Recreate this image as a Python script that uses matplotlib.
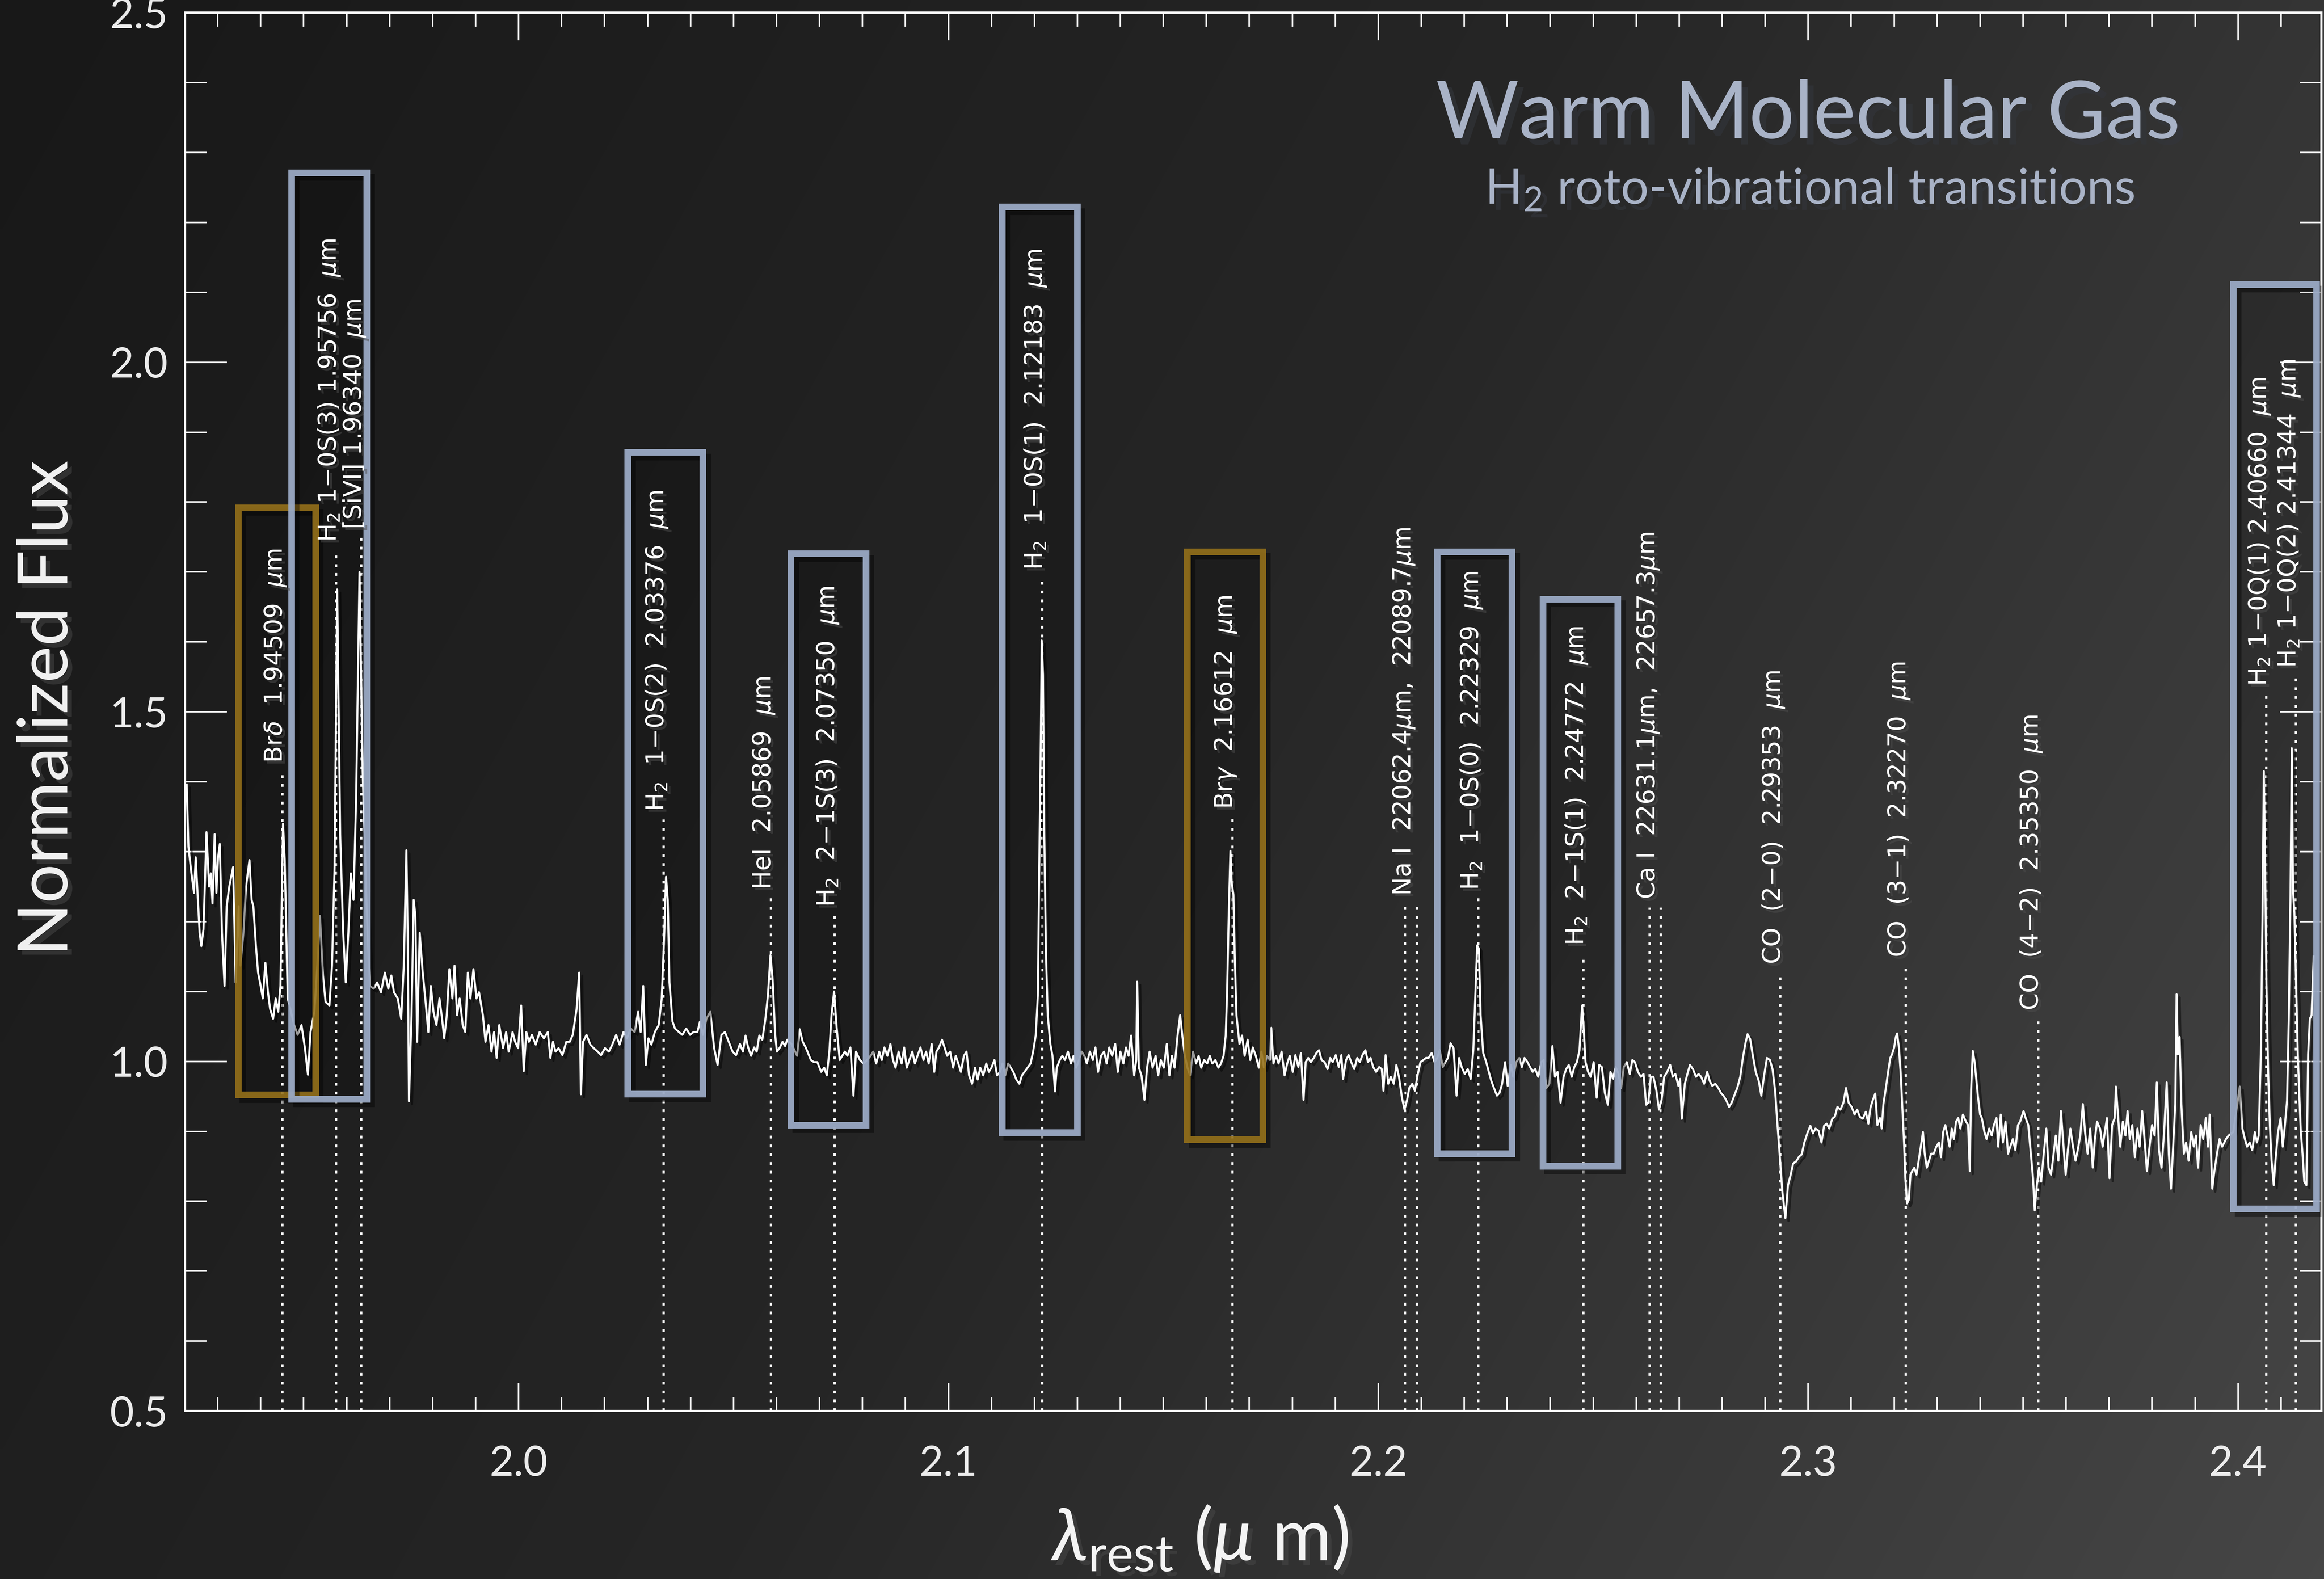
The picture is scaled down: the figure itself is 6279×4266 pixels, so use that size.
import numpy as np
import matplotlib
matplotlib.use("Agg")
import matplotlib.pyplot as plt
import matplotlib.patheffects as pe
from matplotlib.colors import LinearSegmentedColormap
from matplotlib.patches import Rectangle
from matplotlib.ticker import MultipleLocator, FormatStrFormatter
from matplotlib.transforms import offset_copy

plt.rcParams['mathtext.fontset'] = 'dejavusans'
plt.rcParams['mathtext.rm'] = 'Lato'
plt.rcParams['mathtext.it'] = 'Lato:italic'

# spectrum, (wavelength um, normalized flux), in four stretches
spec_a = [
    (1.9228, 1.396), (1.9232, 1.307), (1.9239, 1.269), (1.9245, 1.241), (1.9249, 1.292),
    (1.9254, 1.231), (1.9258, 1.184), (1.9262, 1.165), (1.9267, 1.189), (1.9274, 1.328),
    (1.9280, 1.250), (1.9284, 1.269), (1.9288, 1.226), (1.9293, 1.325), (1.9297, 1.241),
    (1.9301, 1.292), (1.9305, 1.311), (1.9310, 1.184), (1.9316, 1.108), (1.9321, 1.222),
    (1.9327, 1.250), (1.9336, 1.278), (1.9342, 1.113), (1.9349, 1.222), (1.9353, 1.137),
    (1.9360, 1.184), (1.9366, 1.250), (1.9374, 1.288), (1.9379, 1.231), (1.9383, 1.222),
    (1.9389, 1.165), (1.9394, 1.127), (1.9400, 1.108), (1.9405, 1.090), (1.9411, 1.141),
    (1.9417, 1.099), (1.9422, 1.075), (1.9429, 1.061), (1.9435, 1.090), (1.9441, 1.071),
    (1.9446, 1.108), (1.9452, 1.340), (1.9456, 1.288), (1.9463, 1.090), (1.9469, 1.075),
    (1.9478, 1.052), (1.9486, 1.038), (1.9495, 1.052), (1.9503, 1.019), (1.9510, 0.981),
    (1.9516, 1.042), (1.9525, 1.071), (1.9532, 1.137), (1.9538, 1.208), (1.9545, 1.123),
    (1.9551, 1.085), (1.9560, 1.080), (1.9566, 1.137), (1.9572, 1.278), (1.9578, 1.675),
    (1.9585, 1.325), (1.9592, 1.184), (1.9598, 1.113), (1.9604, 1.184), (1.9610, 1.269),
    (1.9616, 1.231), (1.9622, 1.373), (1.9630, 1.700), (1.9637, 1.420), (1.9646, 1.231),
    (1.9654, 1.108), (1.9663, 1.104), (1.9671, 1.113), (1.9680, 1.099), (1.9689, 1.127),
    (1.9697, 1.104), (1.9704, 1.123), (1.9710, 1.099), (1.9719, 1.090), (1.9727, 1.061),
    (1.9733, 1.137), (1.9739, 1.302), (1.9742, 1.184), (1.9745, 0.943), (1.9751, 1.066),
    (1.9756, 1.231), (1.9760, 1.208), (1.9764, 1.028), (1.9770, 1.184), (1.9777, 1.127),
    (1.9783, 1.090), (1.9790, 1.042), (1.9796, 1.108), (1.9802, 1.071), (1.9809, 1.052),
    (1.9816, 1.090), (1.9822, 1.061), (1.9827, 1.033), (1.9833, 1.066), (1.9839, 1.132),
    (1.9846, 1.090), (1.9851, 1.137), (1.9857, 1.066), (1.9863, 1.090), (1.9870, 1.052),
    (1.9876, 1.042), (1.9882, 1.127), (1.9888, 1.090), (1.9895, 1.132), (1.9902, 1.090),
    (1.9908, 1.099), (1.9917, 1.066), (1.9923, 1.028), (1.9930, 1.052), (1.9937, 1.014),
    (1.9943, 1.042), (1.9949, 1.005), (1.9955, 1.052), (1.9964, 1.019), (1.9971, 1.042),
    (1.9977, 1.014), (1.9986, 1.042), (1.9992, 1.028), (1.9999, 1.019), (2.0006, 1.080),
    (2.0012, 0.986), (2.0018, 1.042), (2.0024, 1.028), (2.0031, 1.038), (2.0040, 1.024),
    (2.0049, 1.042), (2.0059, 1.033), (2.0068, 1.042), (2.0074, 1.005), (2.0080, 1.028),
    (2.0086, 1.014), (2.0093, 1.019), (2.0102, 1.009), (2.0111, 1.028), (2.0119, 1.028),
    (2.0126, 1.038), (2.0135, 1.075), (2.0141, 1.127), (2.0145, 0.953), (2.0150, 1.028),
    (2.0158, 1.038), (2.0167, 1.024), (2.0175, 1.019), (2.0184, 1.014), (2.0192, 1.009),
    (2.0201, 1.019), (2.0210, 1.014), (2.0218, 1.024), (2.0227, 1.038), (2.0235, 1.024),
    (2.0244, 1.042), (2.0252, 1.033), (2.0261, 1.047), (2.0270, 1.042), (2.0278, 1.071),
    (2.0284, 1.042), (2.0290, 1.108), (2.0296, 0.995), (2.0302, 1.033), (2.0309, 1.024),
    (2.0317, 1.042), (2.0326, 1.052), (2.0333, 1.090), (2.0339, 1.184), (2.0343, 1.264),
    (2.0347, 1.231), (2.0351, 1.113), (2.0358, 1.057), (2.0364, 1.047), (2.0373, 1.042),
    (2.0381, 1.038), (2.0390, 1.047), (2.0399, 1.038), (2.0407, 1.042), (2.0416, 1.042),
    (2.0422, 1.057), (2.0429, 1.038), (2.0437, 1.061), (2.0446, 1.071), (2.0455, 1.019),
    (2.0463, 0.995), (2.0472, 1.038), (2.0480, 1.042), (2.0489, 1.028), (2.0498, 1.014),
    (2.0506, 1.009),
]
spec_b = [
    (2.0515, 1.025), (2.0522, 1.014), (2.0528, 1.037), (2.0534, 1.020), (2.0541, 1.008),
    (2.0548, 1.020), (2.0554, 1.014), (2.0560, 1.037), (2.0567, 1.031), (2.0574, 1.060),
    (2.0580, 1.094), (2.0586, 1.152), (2.0591, 1.117), (2.0597, 1.037), (2.0601, 1.014),
    (2.0608, 1.020), (2.0614, 1.028), (2.0620, 1.022), (2.0625, 1.031), (2.0635, 1.025),
    (2.0648, 1.008), (2.0654, 1.046), (2.0661, 1.028), (2.0668, 1.020), (2.0674, 1.011),
    (2.0680, 1.002), (2.0687, 0.999), (2.0695, 0.999), (2.0704, 0.985), (2.0711, 0.991),
    (2.0717, 0.980), (2.0723, 1.014), (2.0728, 1.066), (2.0734, 1.100), (2.0740, 1.048),
    (2.0747, 1.002), (2.0753, 1.008), (2.0759, 1.014), (2.0765, 1.008), (2.0772, 1.020),
    (2.0779, 0.951), (2.0785, 1.014), (2.0794, 1.002), (2.0802, 0.997), (2.0811, 1.002),
    (2.0819, 1.008), (2.0825, 1.014), (2.0832, 0.997), (2.0839, 1.014), (2.0845, 1.002),
    (2.0851, 1.020), (2.0858, 1.008), (2.0865, 1.025), (2.0871, 1.002), (2.0877, 0.991),
    (2.0884, 1.014), (2.0891, 0.997), (2.0897, 1.020), (2.0903, 0.991), (2.0909, 1.002),
    (2.0916, 1.014), (2.0922, 0.997), (2.0928, 1.008), (2.0935, 1.020), (2.0942, 1.002),
    (2.0948, 1.014), (2.0954, 0.997), (2.0961, 1.025), (2.0967, 0.985), (2.0972, 1.014),
    (2.0978, 1.020), (2.0985, 1.031), (2.0991, 1.020), (2.0997, 1.008), (2.1004, 1.014),
    (2.1011, 0.991), (2.1017, 1.008), (2.1023, 0.997), (2.1029, 0.985), (2.1036, 1.008),
    (2.1042, 1.014), (2.1048, 0.980), (2.1055, 0.968), (2.1062, 0.991), (2.1068, 0.974),
    (2.1074, 0.991), (2.1081, 0.980), (2.1088, 0.997), (2.1094, 0.985), (2.1100, 0.991),
    (2.1107, 1.002), (2.1113, 0.980), (2.1120, 0.985), (2.1126, 0.997), (2.1132, 0.980),
    (2.1139, 0.997), (2.1145, 0.991), (2.1151, 0.985), (2.1158, 0.974), (2.1165, 0.968),
    (2.1171, 0.980), (2.1177, 0.985), (2.1184, 0.991), (2.1191, 0.997), (2.1197, 1.014),
    (2.1203, 1.037), (2.1208, 1.094), (2.1211, 1.266), (2.1215, 1.467), (2.1217, 1.602),
    (2.1220, 1.553), (2.1223, 1.324), (2.1227, 1.152), (2.1231, 1.066), (2.1237, 1.025),
    (2.1242, 1.008), (2.1248, 0.957), (2.1252, 0.991), (2.1259, 1.002), (2.1265, 1.008),
    (2.1271, 1.002), (2.1278, 1.014), (2.1285, 0.997), (2.1291, 1.008), (2.1297, 0.991),
    (2.1304, 1.002), (2.1310, 1.014), (2.1316, 1.008), (2.1322, 0.997), (2.1329, 1.014),
    (2.1336, 1.002), (2.1342, 1.020), (2.1348, 0.985), (2.1355, 1.008), (2.1362, 1.014),
    (2.1368, 0.997), (2.1374, 1.020), (2.1381, 1.008), (2.1388, 1.025), (2.1394, 0.985),
    (2.1400, 1.014), (2.1407, 0.997), (2.1413, 1.020), (2.1419, 1.008), (2.1425, 1.037),
    (2.1432, 0.980), (2.1437, 1.002), (2.1439, 1.114), (2.1443, 0.991), (2.1449, 0.980),
    (2.1456, 0.945), (2.1462, 0.991), (2.1468, 1.014), (2.1475, 0.991), (2.1482, 1.008),
    (2.1488, 0.980), (2.1494, 1.002), (2.1501, 0.991), (2.1508, 1.025), (2.1514, 0.980),
    (2.1520, 1.008), (2.1526, 0.991), (2.1533, 1.037), (2.1539, 1.066), (2.1544, 1.037),
    (2.1550, 1.008), (2.1556, 0.991), (2.1562, 0.980), (2.1569, 1.014), (2.1576, 0.997),
    (2.1582, 1.008), (2.1588, 0.991), (2.1595, 1.002), (2.1602, 0.997), (2.1608, 1.008),
    (2.1614, 0.997), (2.1621, 1.002), (2.1628, 0.991), (2.1634, 0.997), (2.1640, 1.008),
    (2.1645, 1.037), (2.1648, 1.094), (2.1652, 1.209), (2.1656, 1.301), (2.1659, 1.255),
    (2.1663, 1.238), (2.1666, 1.152), (2.1670, 1.066), (2.1677, 1.025), (2.1683, 1.037),
    (2.1689, 1.008), (2.1696, 1.031), (2.1702, 1.002), (2.1708, 1.020), (2.1715, 1.008),
    (2.1722, 0.991), (2.1728, 1.014), (2.1734, 0.991), (2.1741, 1.008), (2.1748, 1.002),
    (2.1751, 1.048), (2.1756, 0.997), (2.1762, 1.008), (2.1768, 0.997), (2.1775, 1.014),
    (2.1782, 0.980), (2.1788, 0.997), (2.1794, 1.008), (2.1801, 0.985),
]
spec_c = [
    (2.1807, 1.009), (2.1814, 0.992), (2.1820, 1.012), (2.1826, 0.945), (2.1831, 0.999),
    (2.1837, 1.005), (2.1843, 0.999), (2.1850, 1.005), (2.1856, 1.012), (2.1862, 1.016),
    (2.1868, 1.002), (2.1875, 0.999), (2.1882, 0.989), (2.1888, 1.005), (2.1894, 0.999),
    (2.1901, 1.009), (2.1908, 0.992), (2.1914, 1.009), (2.1918, 0.975), (2.1925, 1.002),
    (2.1931, 1.009), (2.1937, 0.999), (2.1944, 0.989), (2.1951, 1.005), (2.1957, 0.999),
    (2.1963, 1.009), (2.1970, 1.016), (2.1976, 0.999), (2.1982, 1.005), (2.1988, 0.992),
    (2.1995, 0.985), (2.2002, 0.992), (2.2008, 0.989), (2.2012, 0.958), (2.2017, 1.009),
    (2.2023, 0.968), (2.2029, 0.978), (2.2036, 0.968), (2.2042, 0.995), (2.2048, 0.978),
    (2.2055, 0.948), (2.2061, 0.931), (2.2067, 0.945), (2.2072, 0.962), (2.2079, 0.968),
    (2.2085, 0.958), (2.2092, 0.982), (2.2098, 0.999), (2.2105, 1.002), (2.2111, 1.005),
    (2.2117, 1.005), (2.2124, 1.012), (2.2131, 0.999), (2.2137, 1.005), (2.2143, 1.016),
    (2.2150, 0.992), (2.2156, 0.999), (2.2162, 1.005), (2.2168, 1.026), (2.2175, 1.019),
    (2.2182, 0.951), (2.2188, 1.005), (2.2194, 0.992), (2.2201, 0.982), (2.2208, 0.989),
    (2.2215, 0.975), (2.2221, 1.016), (2.2226, 1.100), (2.2230, 1.166), (2.2234, 1.161),
    (2.2238, 1.066), (2.2244, 1.012), (2.2251, 0.999), (2.2257, 0.985), (2.2263, 0.972),
    (2.2269, 0.962), (2.2276, 0.951), (2.2282, 0.955), (2.2288, 0.968), (2.2295, 0.999),
    (2.2301, 0.965), (2.2308, 0.995), (2.2314, 0.978), (2.2321, 0.999), (2.2328, 1.005),
    (2.2334, 0.992), (2.2340, 1.005), (2.2347, 0.999), (2.2353, 0.992), (2.2359, 0.985),
    (2.2365, 0.989), (2.2372, 0.978), (2.2379, 0.999), (2.2385, 1.002), (2.2391, 0.962),
    (2.2398, 0.968), (2.2405, 1.022), (2.2411, 0.978), (2.2417, 0.985), (2.2424, 0.941),
    (2.2431, 0.978), (2.2437, 0.989), (2.2443, 0.995), (2.2450, 0.978), (2.2456, 0.992),
    (2.2462, 0.999), (2.2468, 1.016), (2.2474, 1.080), (2.2477, 1.056), (2.2482, 0.999),
    (2.2488, 0.985), (2.2494, 0.978), (2.2501, 0.999), (2.2508, 0.948), (2.2514, 0.995),
    (2.2520, 0.992), (2.2527, 0.955), (2.2534, 0.938), (2.2540, 0.985), (2.2546, 0.975),
    (2.2552, 0.992), (2.2559, 0.982), (2.2565, 0.962), (2.2571, 0.992), (2.2578, 0.999),
    (2.2585, 0.982), (2.2591, 1.002), (2.2597, 0.999), (2.2604, 0.985), (2.2611, 0.978),
    (2.2617, 0.982), (2.2623, 0.938), (2.2628, 0.941), (2.2634, 0.978), (2.2640, 0.978),
    (2.2647, 0.958), (2.2653, 0.931), (2.2659, 0.945), (2.2665, 0.978), (2.2672, 0.985),
    (2.2679, 0.995), (2.2685, 0.978), (2.2691, 0.982), (2.2698, 0.965), (2.2702, 0.975),
    (2.2706, 0.918), (2.2713, 0.968), (2.2719, 0.982), (2.2725, 0.995), (2.2732, 0.989),
    (2.2739, 0.978), (2.2745, 0.982), (2.2751, 0.978), (2.2758, 0.968), (2.2765, 0.985),
    (2.2771, 0.972), (2.2777, 0.965), (2.2784, 0.968), (2.2791, 0.962), (2.2797, 0.955),
    (2.2803, 0.951), (2.2809, 0.945), (2.2816, 0.935), (2.2822, 0.941), (2.2828, 0.951),
    (2.2835, 0.962), (2.2842, 0.978), (2.2848, 1.005), (2.2854, 1.026), (2.2859, 1.039),
    (2.2865, 1.032), (2.2871, 1.009), (2.2878, 0.985), (2.2885, 0.972), (2.2891, 0.951),
    (2.2897, 0.978), (2.2904, 1.005), (2.2911, 1.002), (2.2917, 0.989), (2.2923, 0.958),
    (2.2928, 0.914), (2.2934, 0.864), (2.2940, 0.813), (2.2947, 0.776), (2.2953, 0.823),
    (2.2959, 0.837), (2.2965, 0.854), (2.2972, 0.857), (2.2979, 0.864), (2.2985, 0.867),
    (2.2991, 0.884), (2.2998, 0.897), (2.3005, 0.908), (2.3011, 0.897), (2.3017, 0.904),
    (2.3024, 0.901), (2.3031, 0.884), (2.3037, 0.908), (2.3043, 0.911), (2.3049, 0.904),
    (2.3056, 0.918), (2.3062, 0.921), (2.3068, 0.935), (2.3075, 0.931), (2.3082, 0.941),
    (2.3088, 0.962), (2.3094, 0.941), (2.3101, 0.935), (2.3108, 0.924), (2.3114, 0.931),
    (2.3120, 0.921), (2.3127, 0.918), (2.3134, 0.928), (2.3140, 0.911),
]
spec_d = [
    (2.3145, 0.934), (2.3150, 0.944), (2.3156, 0.954), (2.3161, 0.909), (2.3167, 0.919),
    (2.3171, 0.904), (2.3175, 0.939), (2.3180, 0.959), (2.3186, 0.985), (2.3191, 1.005),
    (2.3195, 1.010), (2.3200, 1.020), (2.3204, 1.035), (2.3207, 1.040), (2.3211, 1.020),
    (2.3215, 0.985), (2.3219, 0.934), (2.3223, 0.884), (2.3226, 0.833), (2.3230, 0.797),
    (2.3234, 0.802), (2.3238, 0.838), (2.3242, 0.843), (2.3247, 0.848), (2.3252, 0.838),
    (2.3257, 0.858), (2.3262, 0.878), (2.3267, 0.899), (2.3271, 0.868), (2.3276, 0.848),
    (2.3281, 0.858), (2.3286, 0.868), (2.3292, 0.868), (2.3298, 0.878), (2.3304, 0.884),
    (2.3309, 0.863), (2.3314, 0.899), (2.3319, 0.909), (2.3324, 0.894), (2.3329, 0.878),
    (2.3334, 0.904), (2.3339, 0.889), (2.3344, 0.914), (2.3349, 0.919), (2.3354, 0.904),
    (2.3360, 0.924), (2.3367, 0.914), (2.3372, 0.909), (2.3376, 0.843), (2.3379, 0.959),
    (2.3383, 1.015), (2.3387, 1.000), (2.3391, 0.975), (2.3395, 0.949), (2.3400, 0.924),
    (2.3404, 0.919), (2.3410, 0.899), (2.3415, 0.889), (2.3421, 0.904), (2.3427, 0.894),
    (2.3432, 0.909), (2.3438, 0.919), (2.3442, 0.878), (2.3448, 0.924), (2.3453, 0.884),
    (2.3459, 0.914), (2.3465, 0.868), (2.3470, 0.878), (2.3476, 0.889), (2.3482, 0.873),
    (2.3488, 0.909), (2.3493, 0.914), (2.3501, 0.929), (2.3506, 0.919), (2.3512, 0.909),
    (2.3518, 0.868), (2.3523, 0.833), (2.3527, 0.787), (2.3532, 0.823), (2.3537, 0.848),
    (2.3542, 0.828), (2.3548, 0.868), (2.3554, 0.904), (2.3559, 0.848), (2.3565, 0.838),
    (2.3571, 0.868), (2.3576, 0.894), (2.3582, 0.858), (2.3588, 0.929), (2.3594, 0.878),
    (2.3599, 0.838), (2.3604, 0.873), (2.3610, 0.904), (2.3616, 0.878), (2.3622, 0.858),
    (2.3627, 0.873), (2.3633, 0.894), (2.3639, 0.939), (2.3644, 0.899), (2.3650, 0.868),
    (2.3656, 0.904), (2.3662, 0.848), (2.3667, 0.889), (2.3672, 0.914), (2.3679, 0.904),
    (2.3685, 0.878), (2.3690, 0.899), (2.3695, 0.919), (2.3701, 0.833), (2.3707, 0.909),
    (2.3713, 0.919), (2.3716, 0.964), (2.3720, 0.929), (2.3726, 0.878), (2.3732, 0.914),
    (2.3738, 0.894), (2.3743, 0.929), (2.3748, 0.889), (2.3754, 0.909), (2.3760, 0.863),
    (2.3766, 0.904), (2.3771, 0.878), (2.3777, 0.929), (2.3783, 0.884), (2.3788, 0.843),
    (2.3794, 0.878), (2.3800, 0.909), (2.3806, 0.894), (2.3811, 0.970), (2.3816, 0.873),
    (2.3822, 0.848), (2.3828, 0.899), (2.3834, 0.970), (2.3839, 0.868), (2.3844, 0.818),
    (2.3849, 0.878), (2.3854, 0.939), (2.3857, 1.096), (2.3860, 1.010), (2.3864, 1.035),
    (2.3868, 0.939), (2.3874, 0.868), (2.3879, 0.884), (2.3885, 0.858), (2.3891, 0.899),
    (2.3897, 0.878), (2.3902, 0.894), (2.3907, 0.848), (2.3913, 0.909), (2.3919, 0.889),
    (2.3925, 0.919), (2.3930, 0.878), (2.3934, 0.924), (2.3940, 0.818), (2.3945, 0.843),
    (2.3951, 0.868), (2.3957, 0.889), (2.3963, 0.878), (2.3968, 0.884), (2.3972, 0.889),
    (2.3978, 0.894), (2.3989, 0.899), (2.4004, 0.964), (2.4010, 0.904), (2.4016, 0.889),
    (2.4021, 0.878), (2.4027, 0.884), (2.4033, 0.873), (2.4039, 0.899), (2.4044, 0.884),
    (2.4048, 0.894), (2.4053, 1.010), (2.4057, 1.213), (2.4060, 1.415), (2.4063, 1.283),
    (2.4066, 1.111), (2.4070, 0.985), (2.4074, 0.909), (2.4078, 0.858), (2.4083, 0.823),
    (2.4087, 0.858), (2.4093, 0.899), (2.4099, 0.919), (2.4104, 0.878), (2.4109, 0.909),
    (2.4114, 0.944), (2.4118, 1.061), (2.4122, 1.238), (2.4125, 1.448), (2.4128, 1.243),
    (2.4131, 1.213), (2.4135, 1.111), (2.4139, 1.010), (2.4142, 0.959), (2.4146, 0.899),
    (2.4150, 0.868), (2.4154, 0.828), (2.4159, 0.823), (2.4163, 1.010), (2.4167, 1.061),
    (2.4171, 1.066), (2.4176, 1.150),
]

# identified lines: label, wavelength(s), flux where the label starts
line_labels = [
    (r"Br$\delta$  1.94509  $\mu$m", [1.94509], 1.427),
    (r"H$_2$ 1−0S(3) 1.95756  $\mu$m", [1.95756], 1.743),
    (r"[SiVI] 1.96340  $\mu$m", [1.96340], 1.761),
    (r"H$_2$  1−0S(2)  2.03376  $\mu$m", [2.03376], 1.358),
    (r"HeI  2.05869  $\mu$m", [2.05869], 1.246),
    (r"H$_2$  2−1S(3)  2.07350  $\mu$m", [2.07350], 1.221),
    (r"H$_2$  1−0S(1)  2.12183  $\mu$m", [2.12183], 1.703),
    (r"Br$\gamma$  2.16612  $\mu$m", [2.16612], 1.361),
    (r"Na I  22062.4$\mu$m,  22089.7$\mu$m", [2.20624, 2.20897], 1.237),
    (r"H$_2$  1−0S(0)  2.22329  $\mu$m", [2.22329], 1.245),
    (r"H$_2$  2−1S(1)  2.24772  $\mu$m", [2.24772], 1.166),
    (r"Ca I  22631.1$\mu$m,  22657.3$\mu$m", [2.26311, 2.26573], 1.232),
    (r"CO  (2−0)  2.29353  $\mu$m", [2.29353], 1.139),
    (r"CO  (3−1)  2.32270  $\mu$m", [2.32270], 1.149),
    (r"CO  (4−2)  2.35350  $\mu$m", [2.35350], 1.073),
    (r"H$_2$ 1−0Q(1) 2.40660  $\mu$m", [2.40660], 1.537),
    (r"H$_2$ 1−0Q(2) 2.41344  $\mu$m", [2.41344], 1.563),
]

# highlight boxes: x0, x1, y0, y1, kind
boxes = [
    (1.9348, 1.9528, 0.952, 1.792, "gold"),
    (1.9472, 1.9647, 0.946, 2.271, "blue"),
    (2.0254, 2.0429, 0.953, 1.871, "blue"),
    (2.0634, 2.0808, 0.909, 1.726, "blue"),
    (2.1125, 2.1300, 0.898, 2.222, "blue"),
    (2.1556, 2.1731, 0.888, 1.729, "gold"),
    (2.2137, 2.2311, 0.868, 1.729, "blue"),
    (2.2383, 2.2557, 0.850, 1.661, "blue"),
    (2.3989, 2.4183, 0.789, 2.111, "blue"),
]
box_colors = {"blue": "#9aa9c4", "gold": "#94701a"}

xlim = (1.9224, 2.4194)
ylim = (0.5, 2.5)
xticks = [2.0, 2.1, 2.2, 2.3, 2.4]
yticks = [0.5, 1.0, 1.5, 2.0, 2.5]

fig = plt.figure(figsize=(20.93, 14.22), dpi=300)

# dark diagonal gradient background
bg = fig.add_axes([0, 0, 1, 1], zorder=0)
bg.axis("off")
gy, gx = np.mgrid[0:1:300j, 0:1:450j]
shade = (gx * 1568 + 0.55 * gy * 1065) / 2154.0
bg_cmap = LinearSegmentedColormap.from_list("bg", ["#181818", "#262626", "#464646"])
bg.imshow(shade, cmap=bg_cmap, aspect="auto", extent=[0, 1, 0, 1], origin="upper",
          interpolation="bilinear")

ax = fig.add_axes([0.0796, 0.1064, 0.9193, 0.8856], zorder=1)
ax.patch.set_alpha(0)

spec = np.array(spec_a + spec_b + spec_c + spec_d)
ax.plot(spec[:, 0], spec[:, 1], color="white", lw=1.3, zorder=2.5,
        path_effects=[pe.SimpleLineShadow(offset=(2, -2), alpha=0.45), pe.Normal()])

for x0, x1, y0, y1, kind in boxes:
    # darker inside of the box, under the spectrum
    ax.add_patch(Rectangle((x0, y0), x1 - x0, y1 - y0, facecolor=(0, 0, 0, 0.2),
                           edgecolor="none", zorder=1.5))
    ax.add_patch(Rectangle((x0, y0), x1 - x0, y1 - y0, facecolor="none",
                           edgecolor=box_colors[kind], lw=4.3, zorder=3,
                           alpha=0.95 if kind == "blue" else 0.9,
                           path_effects=[pe.SimpleLineShadow(offset=(3, -3), alpha=0.4),
                                         pe.Normal()]))

lab_trans = offset_copy(ax.transData, fig=fig, x=-4.8, y=0, units="points")
for text, waves, ystart in line_labels:
    for w in waves:
        ax.plot([w, w], [ylim[0], ystart - 0.012], color="white", lw=1.5,
                ls=(0, (1.2, 2.6)), zorder=2)
    ax.text(np.mean(waves), ystart, text, transform=lab_trans, rotation=90,
            ha="center", va="bottom", fontsize=16, color="white",
            family="DejaVu Sans", zorder=4,
            path_effects=[pe.SimplePatchShadow(offset=(2, -2), alpha=0.5), pe.Normal()])

ax.set_xlim(*xlim)
ax.set_ylim(*ylim)
ax.set_xticks(xticks)
ax.set_yticks(yticks)
ax.xaxis.set_minor_locator(MultipleLocator(0.01))
ax.yaxis.set_minor_locator(MultipleLocator(0.1))
ax.xaxis.set_major_formatter(FormatStrFormatter("%.1f"))
ax.yaxis.set_major_formatter(FormatStrFormatter("%.1f"))
ax.tick_params(which="both", direction="in", top=True, right=True,
               color="white", width=1.0, labelcolor="#ececec", labelsize=27)
ax.tick_params(axis="x", which="major", length=18, pad=22)
ax.tick_params(axis="x", which="minor", length=9)
ax.tick_params(axis="y", which="major", length=27, pad=11)
ax.tick_params(axis="y", which="minor", length=14)
for lab in ax.get_xticklabels() + ax.get_yticklabels():
    lab.set_family("Lato")
for sp in ax.spines.values():
    sp.set_color("white")
    sp.set_linewidth(1.4)

txt_fx = [pe.SimplePatchShadow(offset=(3, -3), alpha=0.5), pe.Normal()]
fig.text(0.0204, 0.5513, "Normalized Flux", rotation=90, ha="center", va="center",
         fontsize=45, color="#f0f0f0", family="Lato", path_effects=txt_fx)
fig.text(0.5167, 0.0256, r"$\lambda_{\rm rest}$ ($\mu$ m)", ha="center", va="center",
         fontsize=47, color="#f4f4f4", family="Lato", math_fontfamily="custom",
         path_effects=txt_fx)

title_fx = [pe.SimplePatchShadow(offset=(4, -4), alpha=0.6), pe.Normal()]
fig.text(0.778, 0.9269, "Warm Molecular Gas", ha="center", va="center", fontsize=52,
         color="#a9b3c7", family="Lato", path_effects=title_fx)
fig.text(0.7788, 0.8798, r"H$_2$ roto-vibrational transitions", ha="center",
         va="center", fontsize=32, color="#a9b3c7", family="Lato",
         math_fontfamily="custom", path_effects=title_fx)

fig.savefig("out.png", dpi=300)
